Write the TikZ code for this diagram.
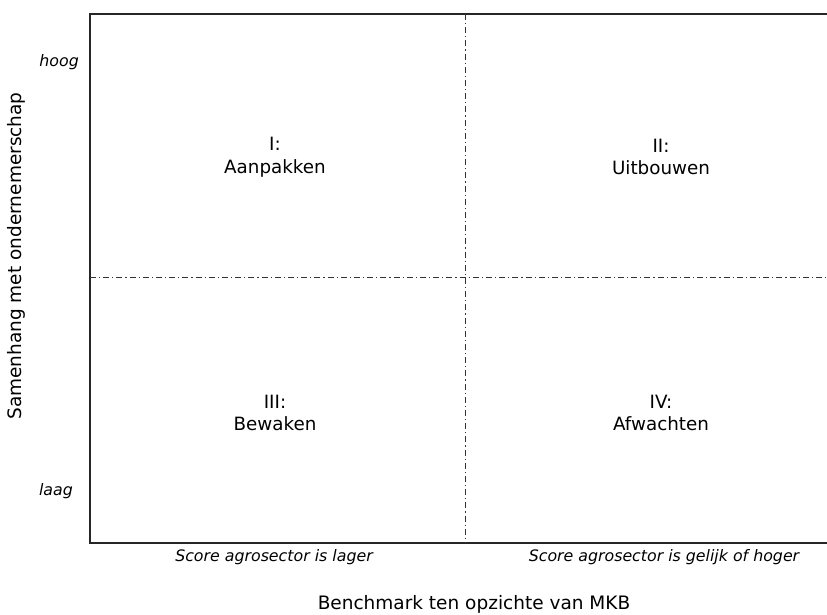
\documentclass[tikz,border=0pt]{standalone}
\usepackage{fontspec}
\setmainfont{DejaVu Sans}
\begin{document}
\begin{tikzpicture}[x=1pt,y=-1pt,
  axis/.style={draw=black!85,line width=1.1pt},
  divider/.style={draw=black!80,line width=0.9pt,dash pattern=on 6pt off 3pt on 1.2pt off 3pt},
  quad/.style={align=center,font=\fontsize{18.3}{22.5}\selectfont,inner sep=0pt},
  lvl/.style={font=\fontsize{15.8}{18}\selectfont\itshape,anchor=east,inner sep=0pt},
  cat/.style={font=\fontsize{15.8}{18}\selectfont\itshape,inner sep=0pt},
  title/.style={font=\fontsize{18.5}{22}\selectfont,inner sep=0pt}]
\useasboundingbox (0,0) rectangle (827,614);
\coordinate (tl) at (90,14);
\coordinate (tr) at (827,14);
\coordinate (bl) at (90,543);
\coordinate (br) at (827,543);
\coordinate (mt) at (465,14);
\coordinate (mb) at (465,543);
\coordinate (ml) at (90,277);
\coordinate (mr) at (827,277);
\draw[axis] (tr) -- (tl) -- (bl) -- (br);
\draw[divider] (mt) -- (mb);
\draw[divider] (ml) -- (mr);
\node[lvl] (hoog) at (79,62) {hoog};
\node[lvl] (laag) at (73,491) {laag};
\node[quad] (q1) at (275,157) {I:\\Aanpakken};
\node[quad] (q2) at (661,157) {II:\\Uitbouwen};
\node[quad] (q3) at (275,413) {III:\\Bewaken};
\node[quad] (q4) at (661,413) {IV:\\Afwachten};
\node[cat] (lo) at (274,557) {Score agrosector is lager};
\node[cat] (hi) at (664,557) {Score agrosector is gelijk of hoger};
\node[title] (xt) at (474,604) {Benchmark ten opzichte van MKB};
\node[title,rotate=90] (yt) at (16,256) {Samenhang met ondernemerschap};
\end{tikzpicture}
\end{document}
